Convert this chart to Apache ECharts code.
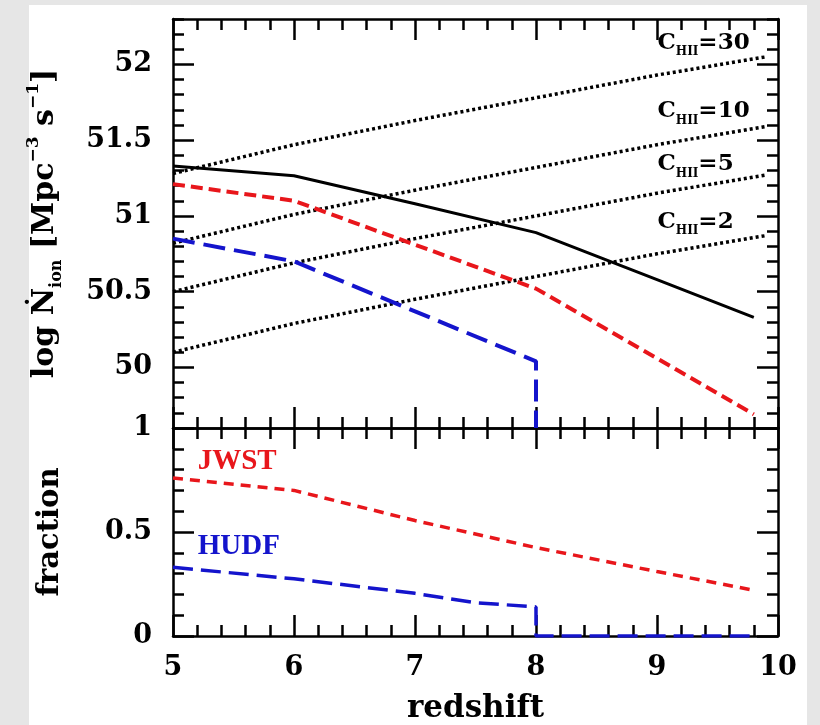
<!DOCTYPE html>
<html><head><meta charset="utf-8">
<script src="https://cdn.jsdelivr.net/npm/echarts@6/dist/echarts.min.js"></script>
<style>
html,body{margin:0;padding:0;background:#e6e6e6;}
#panel{position:absolute;left:29px;top:5px;width:778px;height:720px;background:#fff;}
#chart{position:absolute;left:0;top:0;width:820px;height:725px;}
</style></head><body>
<div id="panel"></div><div id="chart"></div>
<script>
// ---- data ----
const redshift   = [5, 6, 7, 8, 9, 9.8];
const totalRate  = [51.33, 51.265, 51.08, 50.89, 50.58, 50.33];
const jwstRate   = [51.21, 51.10, 50.81, 50.52, 50.06, 49.69];
const hudfRateZ  = [5, 6, 7, 8, 8];
const hudfRate   = [50.85, 50.70, 50.37, 50.04, 49.6];
const clumpZ     = [5, 6, 7, 8, 9, 9.9];
const clump30    = [51.28, 51.47, 51.63, 51.78, 51.93, 52.05];
const clump10    = [50.82, 51.01, 51.17, 51.32, 51.47, 51.59];
const clump5     = [50.50, 50.69, 50.85, 51.00, 51.15, 51.27];
const clump2     = [50.10, 50.29, 50.45, 50.60, 50.75, 50.87];
const jwstFrac   = [0.76, 0.70, 0.555, 0.425, 0.31, 0.22];
const hudfFracZ  = [5, 6, 7, 7.5, 8, 8, 9.8];
const hudfFrac   = [0.33, 0.275, 0.205, 0.16, 0.14, 0, 0];
const rateTicks  = [50, 50.5, 51, 51.5, 52];
const fracTicks  = [0, 0.5, 1];
const zTicks     = [5, 6, 7, 8, 9, 10];

// ---- styling ----
const FONT = 'DejaVu Serif';
const RED = '#e8161b', BLUE = '#1414cc', BLACK = '#000';
const lineS = {color: BLACK, width: 2.5};
const pairs = (xs, ys) => xs.map((x, i) => [x, ys[i]]);
const lab = {fontFamily: FONT, fontSize: 27, fontWeight: 'bold', color: BLACK};

function xAx(grid, pos, labels) {
  const a = {
    type: 'value', gridIndex: grid, position: pos, min: 5, max: 10, interval: 1,
    axisLine: {show: true, onZero: false, lineStyle: lineS},
    axisTick: {show: true, inside: true, length: 21, lineStyle: lineS},
    minorTick: {show: true, splitNumber: 5, length: 11, lineStyle: lineS},
    splitLine: {show: false}, minorSplitLine: {show: false},
    axisLabel: Object.assign({show: labels, margin: 18}, lab)
  };
  if (labels) {
    a.name = 'redshift'; a.nameLocation = 'middle'; a.nameGap = 57;
    a.nameTextStyle = {fontFamily: FONT, fontSize: 31, fontWeight: 'bold', color: BLACK};
  }
  return a;
}
const rateMinor = (pos) => ({
  type: 'value', gridIndex: 0, position: pos, min: 49.6, max: 52.3, interval: 0.1,
  axisLine: {show: true, onZero: false, lineStyle: lineS},
  axisTick: {show: true, inside: true, length: 11, lineStyle: lineS},
  axisLabel: {show: false}, splitLine: {show: false}
});
const rateMajor = (pos, labels) => {
  const a = {
    type: 'value', gridIndex: 0, position: pos, min: 49.6, max: 52.3,
    axisLine: {show: false},
    axisTick: {show: true, inside: true, length: 21, lineStyle: lineS, customValues: rateTicks},
    axisLabel: Object.assign({show: labels, customValues: rateTicks, margin: 21}, lab),
    splitLine: {show: false}
  };
  if (labels) {
    a.name = '{a|log }{a|Ṅ}{s|ion}{a| [Mpc}{p|−3}{a| s}{p|−1}{a|]}';
    a.nameLocation = 'middle'; a.nameRotate = 90; a.nameGap = 108;
    a.nameTextStyle = {fontFamily: FONT, fontSize: 30, fontWeight: 'bold', color: BLACK, rich: {
      a: {fontFamily: FONT, fontSize: 30, fontWeight: 'bold', color: BLACK, lineHeight: 40},
      s: {fontFamily: FONT, fontSize: 16, fontWeight: 'bold', color: BLACK, lineHeight: 17, verticalAlign: 'bottom'},
      p: {fontFamily: FONT, fontSize: 17, fontWeight: 'bold', color: BLACK, lineHeight: 17, verticalAlign: 'top'}
    }};
  }
  return a;
};
const fracAx = (pos, labels) => {
  const a = {
    type: 'value', gridIndex: 1, position: pos, min: 0, max: 1, interval: 0.5,
    axisLine: {show: true, onZero: false, lineStyle: lineS},
    axisTick: {show: true, inside: true, length: 21, lineStyle: lineS},
    minorTick: {show: true, splitNumber: 5, length: 11, lineStyle: lineS},
    splitLine: {show: false}, minorSplitLine: {show: false},
    axisLabel: Object.assign({show: labels, margin: 21}, lab)
  };
  if (labels) {
    a.name = 'fraction'; a.nameLocation = 'middle'; a.nameRotate = 90; a.nameGap = 108;
    a.nameTextStyle = {fontFamily: FONT, fontSize: 29, fontWeight: 'bold', color: BLACK, padding: [0, 0, 0, 0]};
  }
  return a;
};

const cRich = {
  c: {fontFamily: FONT, fontSize: 23, fontWeight: 'bold', color: BLACK, lineHeight: 30},
  s: {fontFamily: FONT, fontSize: 12, fontWeight: 'bold', color: BLACK, lineHeight: 13, verticalAlign: 'bottom'}
};
function textMark(formatter, coord, extra) {
  return {
    symbol: 'circle', symbolSize: 1, silent: true,
    itemStyle: {color: 'rgba(0,0,0,0)'},
    label: Object.assign({show: true, position: 'right', distance: 0, formatter: formatter}, extra),
    data: [{coord: coord}]
  };
}
function dotted(vals, name, coord) {
  return {
    type: 'line', xAxisIndex: 0, yAxisIndex: 0, data: pairs(clumpZ, vals), symbol: 'none',
    lineStyle: {color: BLACK, width: 3.5, type: [3, 3]}, z: 3,
    markPoint: textMark('{c|C}{s|HII}{c|=' + name + '}', coord, {rich: cRich})
  };
}

const option = {
  animation: false,
  grid: [
    {left: 173, top: 19, width: 605, height: 409},
    {left: 173, top: 428, width: 605, height: 208}
  ],
  xAxis: [xAx(0, 'bottom', false), xAx(0, 'top', false), xAx(1, 'bottom', true), xAx(1, 'top', false)],
  yAxis: [rateMinor('left'), rateMajor('left', true), rateMinor('right'), rateMajor('right', false),
          fracAx('left', true), fracAx('right', false)],
  series: [
    dotted(clump30, '30', [9.0, 52.14]),
    dotted(clump10, '10', [9.0, 51.69]),
    dotted(clump5, '5', [9.0, 51.34]),
    dotted(clump2, '2', [9.0, 50.96]),
    {type: 'line', xAxisIndex: 0, yAxisIndex: 0, data: pairs(redshift, totalRate), symbol: 'none',
     lineStyle: {color: BLACK, width: 3}, z: 4},
    {type: 'line', xAxisIndex: 0, yAxisIndex: 0, data: pairs(redshift, jwstRate), symbol: 'none',
     lineStyle: {color: RED, width: 4, type: [12, 6]}, z: 4},
    {type: 'line', xAxisIndex: 0, yAxisIndex: 0, data: pairs(hudfRateZ, hudfRate), symbol: 'none',
     lineStyle: {color: BLUE, width: 4, type: [22, 9]}, z: 4},
    {type: 'line', xAxisIndex: 2, yAxisIndex: 4, data: pairs(redshift, jwstFrac), symbol: 'none',
     lineStyle: {color: RED, width: 3.5, type: [10, 7]}, z: 4,
     markPoint: textMark('JWST', [5.2, 0.84], {fontFamily: 'Liberation Serif', fontSize: 29, fontWeight: 'bold', color: RED})},
    {type: 'line', xAxisIndex: 2, yAxisIndex: 4, data: pairs(hudfFracZ, hudfFrac), symbol: 'none',
     lineStyle: {color: BLUE, width: 3.5, type: [20, 8]}, z: 4,
     markPoint: textMark('HUDF', [5.2, 0.43], {fontFamily: 'Liberation Serif', fontSize: 29, fontWeight: 'bold', color: BLUE})}
  ]
};
const chart = echarts.init(document.getElementById('chart'), null, {renderer: 'canvas'});
chart.setOption(option);
</script></body></html>
